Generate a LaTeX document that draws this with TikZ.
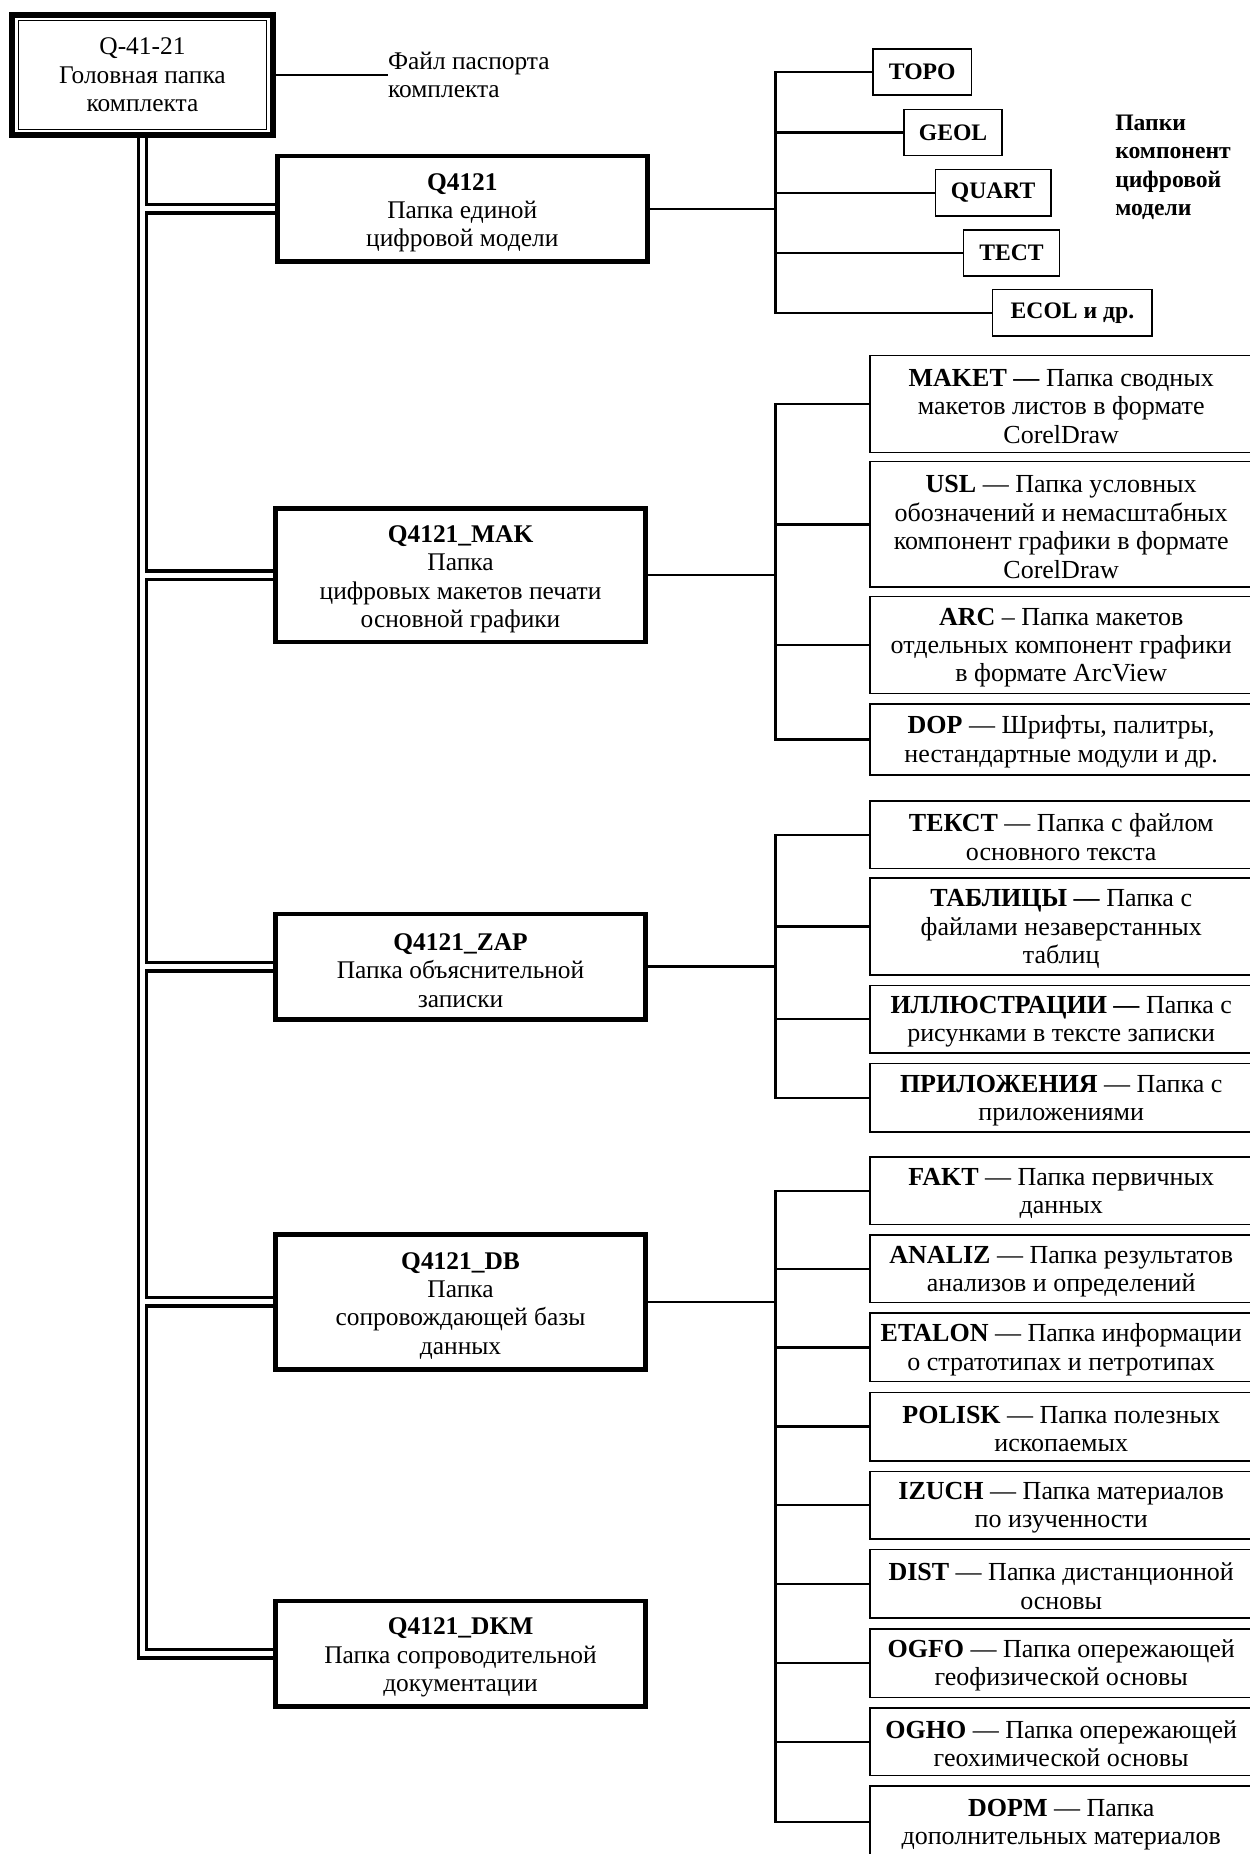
\documentclass[tikz,border=0pt]{standalone}
\usepackage{fontspec}
\setmainfont{Liberation Serif}
\usetikzlibrary{backgrounds}
\newcommand\mainup{\rule{0pt}{21pt}}
\newcommand\subup{\rule{0pt}{19pt}}
\begin{document}
\begin{tikzpicture}[x=1pt,y=-1pt,
  txt/.style={font=\fontsize{21.5}{24}\selectfont, align=center, inner sep=0pt},
  headbox/.style={txt, draw, line width=5pt, fill=white, minimum width=220pt, minimum height=102pt},
  mainbox/.style={txt, draw, line width=4pt, fill=white, minimum width=313pt},
  subbox/.style={txt, font=\fontsize{22}{24}\selectfont, draw, line width=1.3pt, fill=white, minimum width=323pt},
  compbox/.style={font=\fontsize{20}{24}\selectfont\bfseries, draw, line width=1.3pt, fill=white, minimum height=39pt, inner sep=0pt},
  link/.style={line width=2pt},
  dbl/.style={line width=10pt},
  dblcore/.style={line width=4pt, white},
]
\useasboundingbox (0,0) rectangle (1057,1568);

% head
\node[headbox] (head) at (120.5,63.5) {Q-41-21\\Головная папка\\комплекта};
\draw[line width=1pt] ([shift={(7.5,7.5)}]head.north west) rectangle ([shift={(-7.5,-7.5)}]head.south east);
\node[txt, align=left, anchor=west] (pasp) at (328,63.5) {Файл паспорта\\комплекта};
\draw[link] (head.east) -- (pasp.west);

% main boxes
\node[mainbox, minimum height=89pt] (q) at (391,176.5) {\mainup\textbf{Q4121}\\Папка единой\\цифровой модели};
\node[mainbox, minimum height=113pt] (mak) at (389.5,486.5) {\mainup\textbf{Q4121\_MAK}\\Папка\\цифровых макетов печати\\основной графики};
\node[mainbox, minimum height=89pt] (zap) at (389.5,817.5) {\mainup\textbf{Q4121\_ZAP}\\Папка объяснительной\\записки};
\node[mainbox, minimum height=114pt] (db) at (389.5,1101) {\mainup\textbf{Q4121\_DB}\\Папка\\сопровождающей базы\\данных};
\node[mainbox, minimum height=89pt] (dkm) at (389.5,1398.5) {\mainup\textbf{Q4121\_DKM}\\Папка сопроводительной\\документации};

% component boxes
\node[compbox, minimum width=83pt] (topo) at (780,61) {TOPO};
\node[compbox, minimum width=83pt] (geol) at (806,112) {GEOL};
\node[compbox, minimum width=98pt] (quart) at (840,163) {QUART};
\node[compbox, minimum width=81pt] (tect) at (855.5,214) {TECT};
\node[compbox, minimum width=135pt] (ecol) at (907,264.5) {ECOL и др.};
\node[font=\fontsize{20}{23.7}\selectfont\bfseries, align=left, anchor=west, inner sep=0pt] (lbl) at (943,141.5) {Папки\\компонент\\цифровой\\модели};

% MAK children
\node[subbox, minimum height=82pt] (maket) at (897.5,341.5) {\subup\textbf{MAKET —} Папка сводных\\макетов листов в формате\\CorelDraw};
\node[subbox, minimum height=106pt] (usl) at (897.5,443.5) {\subup\textbf{USL} — Папка условных\\обозначений и немасштабных\\компонент графики в формате\\CorelDraw};
\node[subbox, minimum height=82pt] (arc) at (897.5,545.5) {\subup\textbf{ARC} – Папка макетов\\отдельных компонент графики\\в формате ArcView};
\node[subbox, minimum height=60pt] (dop) at (897.5,625.5) {\subup\textbf{DOP} — Шрифты, палитры,\\нестандартные модули и др.};

% ZAP children
\node[subbox, minimum height=57pt] (tekst) at (897.5,706) {\subup\textbf{ТЕКСТ} — Папка с файлом\\основного текста};
\node[subbox, minimum height=82pt] (tabl) at (897.5,783.5) {\subup\textbf{ТАБЛИЦЫ —} Папка с\\файлами незаверстанных\\таблиц};
\node[subbox, minimum height=57pt] (illu) at (897.5,862) {\subup\textbf{ИЛЛЮСТРАЦИИ —} Папка с\\рисунками в тексте записки};
\node[subbox, minimum height=58pt] (pril) at (897.5,928.5) {\subup\textbf{ПРИЛОЖЕНИЯ} — Папка с\\приложениями};

% DB children
\node[subbox, minimum height=57pt] (fakt) at (897.5,1007) {\subup\textbf{FAKT} — Папка первичных\\данных};
\node[subbox, minimum height=57pt] (analiz) at (897.5,1073) {\subup\textbf{ANALIZ} — Папка результатов\\анализов и определений};
\node[subbox, minimum height=58pt] (etalon) at (897.5,1139.5) {\subup\textbf{ETALON} — Папка информации\\о стратотипах и петротипах};
\node[subbox, minimum height=58pt] (polisk) at (897.5,1206.5) {\subup\textbf{POLISK} — Папка полезных\\ископаемых};
\node[subbox, minimum height=57pt] (izuch) at (897.5,1273) {\subup\textbf{IZUCH} — Папка материалов\\по изученности};
\node[subbox, minimum height=58pt] (dist) at (897.5,1339.5) {\subup\textbf{DIST} — Папка дистанционной\\основы};
\node[subbox, minimum height=58pt] (ogfo) at (897.5,1406.5) {\subup\textbf{OGFO} — Папка опережающей\\геофизической основы};
\node[subbox, minimum height=57pt] (ogho) at (897.5,1473) {\subup\textbf{OGHO} — Папка опережающей\\геохимической основы};
\node[subbox, minimum height=61pt] (dopm) at (897.5,1541) {\subup\textbf{DOPM} — Папка\\дополнительных материалов};

\coordinate (bx) at (656,0);

\begin{scope}[on background layer]
  % double trunk
  \draw[dbl] (head.south) |- (dkm.west);
  \foreach \n in {q,mak,zap,db} \draw[dbl] (head.south |- \n.west) -- (\n.west);
  \draw[dblcore] (head.south) |- (dkm.west);
  \foreach \n in {q,mak,zap,db} \draw[dblcore] (head.south |- \n.west) -- (\n.west);
  % buses
  \draw[link] (q.east) -- (bx |- q.east);
  \foreach \c in {topo,geol,quart,tect,ecol} \draw[link] (\c.west) -| (bx |- q.east);
  \draw[link] (mak.east) -- (bx |- mak.east);
  \foreach \c in {maket,usl,arc,dop} \draw[link] (\c.west) -| (bx |- mak.east);
  \draw[link] (zap.east) -- (bx |- zap.east);
  \foreach \c in {tekst,tabl,illu,pril} \draw[link] (\c.west) -| (bx |- zap.east);
  \draw[link] (db.east) -- (bx |- db.east);
  \foreach \c in {fakt,analiz,etalon,polisk,izuch,dist,ogfo,ogho,dopm} \draw[link] (\c.west) -| (bx |- db.east);
\end{scope}
\end{tikzpicture}
\end{document}
